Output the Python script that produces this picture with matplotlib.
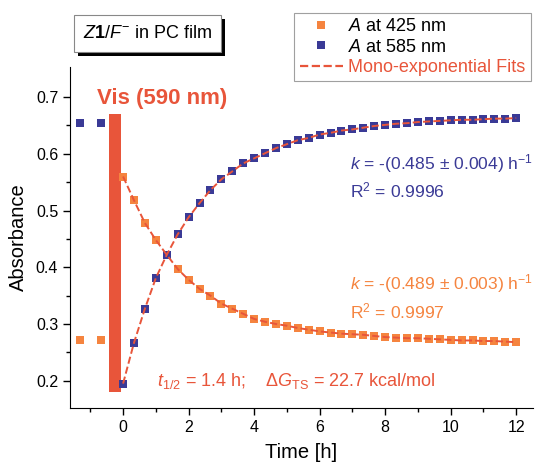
import numpy as np
import matplotlib
matplotlib.use('Agg')
import matplotlib.pyplot as plt
from matplotlib.patches import Rectangle

plt.rcParams['font.family'] = ['Liberation Sans', 'DejaVu Sans']
plt.rcParams['mathtext.fontset'] = 'custom'
plt.rcParams['mathtext.rm'] = 'Liberation Sans'
plt.rcParams['mathtext.it'] = 'Liberation Sans:italic'
plt.rcParams['mathtext.bf'] = 'Liberation Sans:bold'

# Dados
t_pre = [-1.3, -0.67]
A585_pre = [0.655, 0.655]
A425_pre = [0.272, 0.272]

t = np.arange(37) / 3.0  # 0 .. 12 h, a cada 20 min
A585 = [0.195, 0.267, 0.327, 0.381, 0.422, 0.458, 0.488, 0.513, 0.536, 0.555,
        0.569, 0.583, 0.592, 0.601, 0.610, 0.617, 0.624, 0.628, 0.634, 0.637,
        0.641, 0.643, 0.646, 0.649, 0.651, 0.653, 0.654, 0.656, 0.657, 0.658,
        0.659, 0.660, 0.660, 0.661, 0.662, 0.662, 0.663]
A425 = [0.560, 0.518, 0.478, 0.448, 0.422, 0.397, 0.378, 0.362, 0.350, 0.336,
        0.327, 0.318, 0.309, 0.304, 0.300, 0.297, 0.293, 0.290, 0.287, 0.285,
        0.283, 0.282, 0.281, 0.279, 0.277, 0.276, 0.275, 0.275, 0.274, 0.273,
        0.272, 0.271, 0.271, 0.270, 0.270, 0.269, 0.268]

orange = '#F5843F'
blue = '#3A3A96'
red = '#E8553A'

fig = plt.figure(figsize=(5.36, 4.63), dpi=100)
ax = fig.add_axes([0.1306, 0.1188, 0.863, 0.7365])

# barra de irradiacao
ax.add_patch(Rectangle((-0.43, 0.181), 0.37, 0.489, facecolor=red, edgecolor='none', zorder=2))

ax.plot(t, A585, '--', color=red, lw=1.4, zorder=4)
ax.plot(t, A425, '--', color=red, lw=1.4, zorder=4)
ax.plot(t_pre + list(t), A425_pre + A425, 's', color=orange, ms=6.3, mew=0, zorder=3)
ax.plot(t_pre + list(t), A585_pre + A585, 's', color=blue, ms=6, mew=0, zorder=3)

# legenda
h1, = ax.plot([], [], 's', color=orange, ms=6, mew=0)
h2, = ax.plot([], [], 's', color=blue, ms=6, mew=0)
h3, = ax.plot([], [], '--', color=red, lw=1.6)
leg = fig.legend([h1, h2, h3],
                 [r'$\mathit{A}$ at 425 nm', r'$\mathit{A}$ at 585 nm', 'Mono-exponential Fits'],
                 loc='upper right', bbox_to_anchor=(531 / 536, 1 - 13 / 463),
                 fontsize=13, frameon=True, fancybox=False, edgecolor='#888888',
                 handlelength=2.4, handletextpad=0.3, borderpad=0.3, labelspacing=0.18,
                 borderaxespad=0)
leg.get_frame().set_linewidth(0.8)
leg.get_texts()[2].set_color(red)

# caixa do titulo com sombra
fig.patches.append(Rectangle((78 / 536, 1 - 56 / 463), 147 / 536, 37 / 463,
                             transform=fig.transFigure, facecolor='black', edgecolor='none'))
fig.patches.append(Rectangle((74 / 536, 1 - 52 / 463), 147 / 536, 37 / 463,
                             transform=fig.transFigure, facecolor='white', edgecolor='#888888', lw=0.8))
fig.text(147.5 / 536, 1 - 33.5 / 463, r'$\mathit{Z}\mathbf{1}/\mathit{F}^{-}$ in PC film',
         ha='center', va='center', fontsize=13)

ax.text(-0.8, 0.698, 'Vis (590 nm)', color=red, fontsize=16, fontweight='bold', va='center')
ax.text(6.94, 0.583, r'$\mathit{k}$ = -(0.485 $\pm$ 0.004) h$^{-1}$', color=blue, fontsize=12.6, va='center')
ax.text(6.94, 0.535, r'R$^2$ = 0.9996', color=blue, fontsize=12.6, va='center')
ax.text(6.94, 0.372, r'$\mathit{k}$ = -(0.489 $\pm$ 0.003) h$^{-1}$', color=orange, fontsize=12.6, va='center')
ax.text(6.94, 0.323, r'R$^2$ = 0.9997', color=orange, fontsize=12.6, va='center')
ax.text(1.04, 0.2, r'$\mathit{t}_{1/2}$ = 1.4 h;    $\Delta\mathit{G}_{\rm TS}$ = 22.7 kcal/mol',
        color=red, fontsize=13, va='center')

ax.set_xlim(-1.62, 12.5)
ax.set_ylim(0.152, 0.753)
ax.set_xticks([0, 2, 4, 6, 8, 10, 12])
ax.set_xticks([-1, 1, 3, 5, 7, 9, 11], minor=True)
ax.set_yticks([0.2, 0.3, 0.4, 0.5, 0.6, 0.7])
ax.set_yticks([0.25, 0.35, 0.45, 0.55, 0.65], minor=True)
ax.tick_params(which='major', length=5, width=1, labelsize=11.5)
ax.tick_params(which='minor', length=3, width=1)
ax.spines['top'].set_visible(False)
ax.spines['right'].set_visible(False)
ax.set_xlabel('Time [h]', fontsize=14.5, labelpad=6)
ax.set_ylabel('Absorbance', fontsize=14.5, labelpad=6)

plt.savefig('out.png', dpi=100)
